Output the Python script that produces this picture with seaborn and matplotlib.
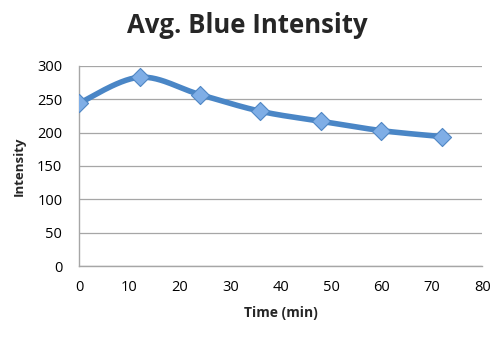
import numpy as np
import pandas as pd
import matplotlib
matplotlib.use("Agg")
import matplotlib.pyplot as plt
import seaborn as sns

time_min = [0, 12, 24, 36, 48, 60, 72]
intensity = [244, 283, 257, 232, 217, 203, 194]
x_ticks = [0, 10, 20, 30, 40, 50, 60, 70, 80]
y_ticks = [0, 50, 100, 150, 200, 250, 300]
title = "Avg. Blue Intensity"
x_label = "Time (min)"
y_label = "Intensity"

sns.set_style("white")
plt.rcParams['font.family'] = ['Open Sans', 'DejaVu Sans']

df = pd.DataFrame({"time": time_min, "intensity": intensity})


def catmull_rom(x, y, n=30):
    # Smooth rendering of the line (like Excel's smoothed line)
    x = np.asarray(x, float); y = np.asarray(y, float)
    px = np.concatenate([[x[0]], x, [x[-1]]])
    py = np.concatenate([[y[0]], y, [y[-1]]])
    xs, ys = [], []
    for i in range(1, len(px) - 2):
        p0, p1, p2, p3 = [np.array([px[j], py[j]]) for j in (i - 1, i, i + 1, i + 2)]
        t = np.linspace(0, 1, n)[:, None]
        pts = 0.5 * ((2 * p1) + (-p0 + p2) * t + (2 * p0 - 5 * p1 + 4 * p2 - p3) * t ** 2
                     + (-p0 + 3 * p1 - 3 * p2 + p3) * t ** 3)
        xs.extend(pts[:, 0]); ys.extend(pts[:, 1])
    return np.array(xs), np.array(ys)


fig = plt.figure(figsize=(4.94, 3.38), dpi=100)
ax = fig.add_axes([0.16, 0.213, 0.816, 0.592])

sx, sy = catmull_rom(df["time"], df["intensity"])
ax.plot(sx, sy, color="#4A86C6", lw=4.0, solid_capstyle="round", zorder=2)
sns.scatterplot(data=df, x="time", y="intensity", marker="D", s=85,
                color="#7FAEE6", edgecolor="#4F86C4", linewidth=0.8, ax=ax, zorder=3)

ax.set_xlim(0, 80)
ax.set_ylim(0, 300)
ax.set_xticks(x_ticks)
ax.set_yticks(y_ticks)
ax.grid(axis="y", color="#A6A6A6", lw=0.9)
ax.set_axisbelow(True)
for s in ["top", "right"]:
    ax.spines[s].set_visible(False)
for s in ["left", "bottom"]:
    ax.spines[s].set_color("#A6A6A6")
    ax.spines[s].set_linewidth(1.0)
ax.tick_params(axis="both", labelsize=10.5, length=0, colors="black")
ax.tick_params(axis="x", pad=10)
ax.tick_params(axis="y", pad=12)
ax.set_xlabel(x_label, fontsize=10, fontweight="bold", labelpad=8)
ax.set_ylabel(y_label, fontsize=9.5, fontweight="bold", labelpad=8)
fig.suptitle(title, fontsize=18.5, fontweight="bold", x=0.5, y=0.965)

fig.savefig("out.png", dpi=100)
